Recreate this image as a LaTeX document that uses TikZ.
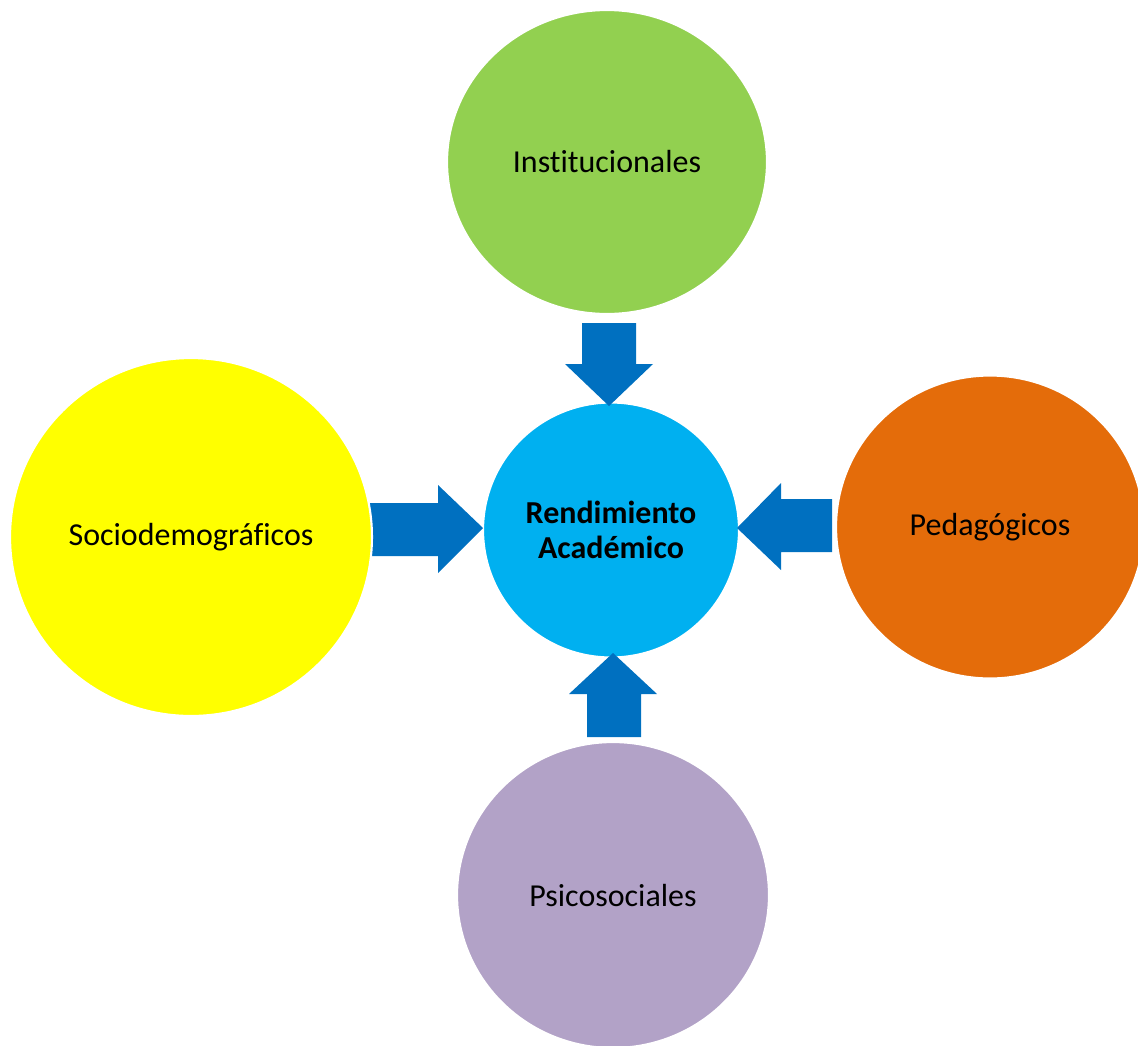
\documentclass[tikz,border=0pt]{standalone}
\usepackage{fontspec}
\setmainfont{Carlito}[Ligatures=NoCommon]
\usetikzlibrary{shapes.geometric}
\definecolor{greenC}{HTML}{92D050}
\definecolor{yellowC}{HTML}{FFFF00}
\definecolor{blueC}{HTML}{00B0F0}
\definecolor{orangeC}{HTML}{E46C0A}
\definecolor{purpleC}{HTML}{B2A2C7}
\definecolor{arrowC}{HTML}{0070C0}
\begin{document}
\begin{tikzpicture}[x=0.02cm, y=-0.02cm,
  factor/.style={ellipse, inner sep=0pt, draw=white, line width=1.2pt, font=\fontsize{18.2}{19.5}\selectfont},
  blockarrow/.style={fill=arrowC}]
\useasboundingbox (0,0) rectangle (1138,1045);
% centre
\node[factor, fill=blueC, minimum width=5.12cm, minimum height=5.1cm, align=center, font=\fontsize{18.2}{19.5}\selectfont\bfseries] (rend) at (611,530) {Rendimiento\\Académico};
% arrows
\fill[blockarrow] (582,323) -- (636,323) -- (636,364) -- (653,364) -- (609,406) -- (565,364) -- (582,364) -- cycle;
\fill[blockarrow] (360,503) -- (438,503) -- (438,485) -- (483,528) -- (438,573) -- (438,556) -- (360,556) -- cycle;
\fill[blockarrow] (832,499) -- (781,499) -- (781,483) -- (737,528) -- (781,570) -- (781,552) -- (832,552) -- cycle;
\fill[blockarrow] (587,737) -- (587,694) -- (569,694) -- (613,653) -- (657,694) -- (641,694) -- (641,737) -- cycle;
% outer factors
\node[factor, fill=greenC, minimum width=6.4cm, minimum height=6.08cm] (inst) at (607,162) {Institucionales};
\node[factor, fill=yellowC, minimum width=7.24cm, minimum height=7.16cm] (socio) at (191,537) {Sociodemográficos};
\node[factor, fill=orangeC, minimum width=6.16cm, minimum height=6.06cm] (peda) at (990,527) {Pedagógicos};
\node[factor, fill=purpleC, minimum width=6.24cm, minimum height=6.12cm] (psico) at (613,895) {Psicosociales};
\end{tikzpicture}
\end{document}
